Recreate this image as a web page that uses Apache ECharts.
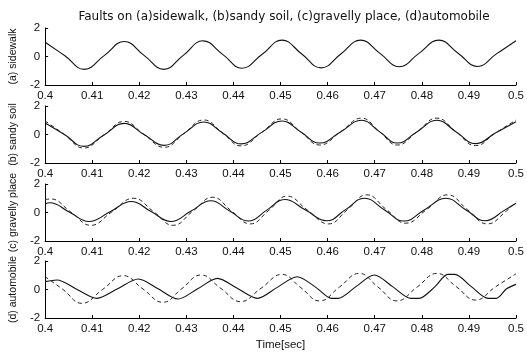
<!DOCTYPE html>
<html><head><meta charset="utf-8">
<script src="https://cdn.jsdelivr.net/npm/echarts@6/dist/echarts.min.js"></script>
<style>html,body{margin:0;padding:0;background:#fff}#c{width:527px;height:358px}</style>
</head><body><div id="c"></div>
<script>
const titleText = 'Faults on (a)sidewalk, (b)sandy soil, (c)gravelly place, (d)automobile';
const xAxisTitle = 'Time[sec]';
const panelNames = ['(a) sidewalk', '(b) sandy soil', '(c) gravelly place', '(d) automobile'];
const yTickValues = [-2, 0, 2];

// [time, value] pairs
const sidewalkSolid = [[0.4,1.0],[0.4042,0.05],[0.4083,-0.9],[0.4126,0.08],[0.4168,1.05],[0.4210,0.08],[0.4252,-0.9],[0.4294,0.1],[0.4335,1.1],[0.4377,0.15],[0.4418,-0.82],[0.4461,0.16],[0.4503,1.15],[0.4545,0.18],[0.4586,-0.8],[0.4628,0.18],[0.4670,1.15],[0.4711,0.22],[0.4752,-0.72],[0.4794,0.22],[0.4836,1.15],[0.4877,0.23],[0.4918,-0.7],[0.4959,0.2],[0.5,1.1]];

const sandySolid = [[0.4,0.8],[0.4041,0.0],[0.4082,-0.83],[0.4125,-0.03],[0.4168,0.78],[0.4210,0.0],[0.4253,-0.76],[0.4295,0.08],[0.4337,0.88],[0.4377,0.1],[0.4416,-0.66],[0.4460,0.15],[0.4503,0.95],[0.4543,0.18],[0.4583,-0.6],[0.4628,0.2],[0.4672,1.0],[0.4710,0.2],[0.4748,-0.6],[0.4790,0.2],[0.4832,1.0],[0.4873,0.18],[0.4914,-0.64],[0.4957,0.12],[0.5,0.9]];
const sandyDashed = [[0.4,0.95],[0.4041,0.0],[0.4082,-0.95],[0.4125,-0.03],[0.4168,0.92],[0.4210,0.0],[0.4253,-0.9],[0.4295,0.08],[0.4337,1.02],[0.4377,0.1],[0.4416,-0.8],[0.4460,0.15],[0.4503,1.1],[0.4543,0.18],[0.4583,-0.74],[0.4628,0.2],[0.4672,1.15],[0.4710,0.2],[0.4748,-0.74],[0.4790,0.2],[0.4832,1.15],[0.4873,0.18],[0.4914,-0.78],[0.4957,0.12],[0.5,1.02]];

const gravelSolid = [[0.4,0.6],[0.4010,0.68],[0.4052,0.02],[0.4093,-0.63],[0.4138,0.05],[0.4183,0.77],[0.4225,0.07],[0.4267,-0.63],[0.4310,0.1],[0.4352,0.82],[0.4392,0.1],[0.4432,-0.6],[0.4470,0.15],[0.4509,0.91],[0.4553,0.17],[0.4598,-0.58],[0.4638,0.2],[0.4678,1.0],[0.4720,0.2],[0.4762,-0.6],[0.4806,0.2],[0.4851,1.0],[0.4893,0.2],[0.4935,-0.58],[0.4975,0.15],[0.5,0.65]];
const gravelDashed = [[0.4,0.9],[0.4012,0.95],[0.4055,0.02],[0.4097,-0.9],[0.4142,0.05],[0.4188,1.0],[0.4230,0.07],[0.4272,-0.9],[0.4314,0.1],[0.4356,1.07],[0.4396,0.1],[0.4436,-0.8],[0.4475,0.15],[0.4514,1.15],[0.4557,0.17],[0.4602,-0.8],[0.4642,0.2],[0.4683,1.24],[0.4725,0.2],[0.4766,-0.75],[0.4810,0.2],[0.4855,1.24],[0.4897,0.2],[0.4939,-0.8],[0.4980,0.12],[0.5,0.77]];

const autoSolid = [[0.4,0.55],[0.4025,0.67],[0.4068,0.0],[0.4110,-0.62],[0.4154,0.05],[0.4198,0.74],[0.4240,0.05],[0.4282,-0.67],[0.4324,0.05],[0.4366,0.78],[0.4408,0.08],[0.4451,-0.62],[0.4493,0.15],[0.4535,0.9],[0.4575,0.15],[0.4608,-0.62],[0.4622,-0.62],[0.4660,0.2],[0.4699,1.02],[0.4738,0.2],[0.4777,-0.62],[0.4794,-0.62],[0.4828,0.2],[0.4855,1.06],[0.4870,1.06],[0.4905,0.2],[0.4941,-0.62],[0.4958,-0.62],[0.4980,0.05],[0.5,0.36]];
const autoDashed = [[0.4,0.9],[0.4038,0.0],[0.4078,-0.97],[0.4122,0.0],[0.4166,0.97],[0.4208,0.03],[0.4250,-0.9],[0.4290,0.05],[0.4331,1.02],[0.4373,0.08],[0.4415,-0.85],[0.4459,0.1],[0.4503,1.06],[0.4543,0.13],[0.4583,-0.8],[0.4625,0.17],[0.4667,1.13],[0.4707,0.17],[0.4747,-0.8],[0.4790,0.17],[0.4832,1.13],[0.4873,0.2],[0.4914,-0.74],[0.4957,0.2],[0.5,1.1]];

const panels = [
  {name: panelNames[0], solid: sidewalkSolid, dashed: null},
  {name: panelNames[1], solid: sandySolid, dashed: sandyDashed},
  {name: panelNames[2], solid: gravelSolid, dashed: gravelDashed},
  {name: panelNames[3], solid: autoSolid, dashed: autoDashed}
];

const FONT = 'Liberation Sans, Arial, sans-serif';
const gridTops = [28, 106, 184, 261];
const gridH = 57;

const grids = [], xAxes = [], yAxes = [], series = [];
panels.forEach((p, i) => {
  grids.push({left: 43, right: 9, top: gridTops[i], height: gridH});
  xAxes.push({
    type: 'value', gridIndex: i, min: 0.4, max: 0.5, interval: 0.01,
    name: i === 3 ? xAxisTitle : '', nameLocation: 'middle', nameGap: 21,
    nameTextStyle: {fontFamily: FONT, fontSize: 11.5, color: '#111'},
    axisLine: {onZero: false, lineStyle: {color: '#000', width: 1}},
    axisTick: {inside: true, length: 3, lineStyle: {color: '#000'}},
    axisLabel: {fontFamily: FONT, fontSize: 11.5, color: '#111', margin: 5,
      formatter: v => String(+v.toFixed(2))},
    splitLine: {show: false}
  });
  yAxes.push({
    type: 'value', gridIndex: i, min: yTickValues[0], max: yTickValues[2], interval: 2,
    name: p.name, nameLocation: 'middle', nameGap: 24, nameRotate: 90,
    nameTextStyle: {fontFamily: FONT, fontSize: 10.5, color: '#111'},
    axisLine: {show: true, lineStyle: {color: '#000', width: 1}},
    axisTick: {show: true, inside: true, length: 3, lineStyle: {color: '#000'}},
    axisLabel: {fontFamily: FONT, fontSize: 11.5, color: '#111', margin: 5},
    splitLine: {show: false}
  });
  series.push({
    type: 'line', xAxisIndex: i, yAxisIndex: i, data: p.solid, showSymbol: false,
    smooth: i === 3 ? 0.3 : 0.45,
    lineStyle: {color: '#111', width: 1.1, type: 'solid'}
  });
  if (p.dashed) {
    series.push({
      type: 'line', xAxisIndex: i, yAxisIndex: i, data: p.dashed, showSymbol: false,
      smooth: 0.45,
      lineStyle: {color: '#222', width: 1, type: [4, 3]}
    });
  }
});

const chart = echarts.init(document.getElementById('c'), null, {renderer: 'canvas'});
chart.setOption({
  animation: false,
  backgroundColor: '#fff',
  title: {text: titleText, left: 279, top: 6, textAlign: 'center',
    textStyle: {fontFamily: 'DejaVu Sans, sans-serif', fontSize: 12, fontWeight: 'normal', color: '#111'}},
  grid: grids, xAxis: xAxes, yAxis: yAxes, series: series
});
</script>
</body></html>
